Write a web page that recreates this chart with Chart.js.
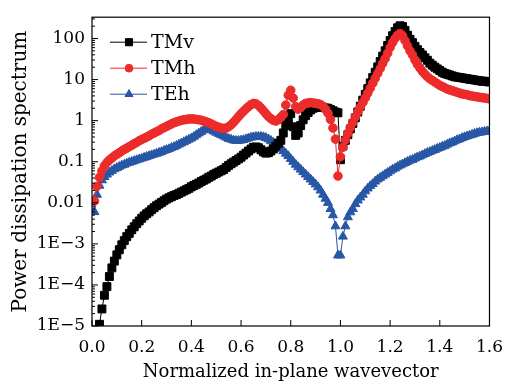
<!DOCTYPE html>
<html>
<head>
<meta charset="utf-8">
<script src="https://cdn.jsdelivr.net/npm/chart.js@4.4.1/dist/chart.umd.min.js"></script>
<style>
  html, body { margin: 0; background: #fff; }
  #wrap { width: 514px; height: 385px; }
</style>
</head>
<body>
<div id="wrap"><canvas id="chart"></canvas></div>
<script>
/* Power dissipation spectra vs normalized in-plane wavevector */

const wavevector = [
  0.01,0.02,0.03,0.04,0.05,0.06,0.07,0.08,0.09,0.10,
  0.11,0.12,0.13,0.14,0.15,0.16,0.17,0.18,0.19,0.20,
  0.21,0.22,0.23,0.24,0.25,0.26,0.27,0.28,0.29,0.30,
  0.31,0.32,0.33,0.34,0.35,0.36,0.37,0.38,0.39,0.40,
  0.41,0.42,0.43,0.44,0.45,0.46,0.47,0.48,0.49,0.50,
  0.51,0.52,0.53,0.54,0.55,0.56,0.57,0.58,0.59,0.60,
  0.61,0.62,0.63,0.64,0.65,0.66,0.67,0.68,0.69,0.70,
  0.71,0.72,0.73,0.74,0.75,0.76,0.77,0.78,0.79,0.80,
  0.81,0.82,0.83,0.84,0.85,0.86,0.87,0.88,0.89,0.90,
  0.91,0.92,0.93,0.94,0.95,0.96,0.97,0.98,0.99,1.00,
  1.01,1.02,1.03,1.04,1.05,1.06,1.07,1.08,1.09,1.10,
  1.11,1.12,1.13,1.14,1.15,1.16,1.17,1.18,1.19,1.20,
  1.21,1.22,1.23,1.24,1.25,1.26,1.27,1.28,1.29,1.30,
  1.31,1.32,1.33,1.34,1.35,1.36,1.37,1.38,1.39,1.40,
  1.41,1.42,1.43,1.44,1.45,1.46,1.47,1.48,1.49,1.50,
  1.51,1.52,1.53,1.54,1.55,1.56,1.57,1.58,1.59,1.60
];

const tmv = [
  null,null,1.1e-5,2.6e-5,5.6e-5,9.1e-5,1.6e-4,2.6e-4,3.8e-4,5.4e-4,
  7.2e-4,9.5e-4,1.2e-3,1.5e-3,1.8e-3,2.2e-3,2.6e-3,3.1e-3,3.6e-3,4.2e-3,
  4.8e-3,5.4e-3,6.0e-3,6.8e-3,7.6e-3,8.5e-3,9.3e-3,0.0102,0.0112,0.0123,
  0.0132,0.0141,0.0151,0.0158,0.017,0.0182,0.0195,0.0209,0.0224,0.0245,
  0.0263,0.0282,0.0302,0.0331,0.0355,0.038,0.0417,0.0447,0.049,0.0525,
  0.0562,0.0603,0.0646,0.0724,0.0813,0.0891,0.0977,0.107,0.117,0.129,
  0.145,0.162,0.182,0.204,0.224,0.229,0.219,0.195,0.174,0.162,
  0.166,0.182,0.204,0.24,0.282,0.331,0.501,0.759,1.12,1.48,
  0.708,0.437,0.501,0.759,1.05,1.32,1.58,1.82,2.0,2.09,
  2.14,2.14,2.09,2.04,2.0,1.86,1.74,1.62,1.55,0.112,
  0.24,0.331,0.457,0.631,0.851,1.17,1.62,2.24,3.16,4.37,
  6.03,8.32,11.2,15.1,20.4,27.5,37.2,50.1,67.6,89.1,
  117,148,182,204,195,158,120,95.5,79.4,64.6,
  53.7,45.7,39.8,33.9,29.5,25.1,22.4,20.0,18.2,16.6,
  15.1,14.1,13.5,12.9,12.3,11.7,11.5,11.2,11.0,10.7,
  10.5,10.2,10.0,9.77,9.55,9.33,9.12,9.12,8.91,8.71
];

const tmh = [
  0.011,0.0251,0.0417,0.0603,0.0794,0.0955,0.11,0.123,0.138,0.151,
  0.166,0.182,0.2,0.214,0.234,0.251,0.275,0.295,0.324,0.347,
  0.372,0.398,0.427,0.468,0.501,0.537,0.575,0.631,0.676,0.724,
  0.776,0.832,0.891,0.933,0.977,1.02,1.05,1.07,1.1,1.1,
  1.1,1.07,1.05,1.02,0.977,0.933,0.891,0.832,0.776,0.724,
  0.692,0.661,0.646,0.661,0.708,0.794,0.912,1.07,1.26,1.48,
  1.7,1.95,2.19,2.45,2.63,2.57,2.34,2.04,1.74,1.48,
  1.26,1.12,1.02,0.977,1.05,1.2,1.41,2.4,4.17,5.5,
  3.55,2.19,1.91,2.09,2.4,2.63,2.69,2.75,2.69,2.63,
  2.57,2.45,2.24,1.91,1.51,1.07,0.661,0.355,0.0447,0.132,
  0.224,0.339,0.49,0.676,0.912,1.23,1.62,2.14,2.75,3.55,
  4.68,6.17,8.13,10.7,14.1,18.6,24.5,32.4,43.7,60.3,
  79.4,100,120,132,117,89.1,66.1,50.1,39.8,30.2,
  23.4,19.1,15.8,13.5,11.7,10.5,9.55,8.71,7.94,7.24,
  6.76,6.31,5.89,5.62,5.37,5.13,4.9,4.68,4.47,4.37,
  4.27,4.07,3.98,3.89,3.8,3.72,3.63,3.55,3.47,3.39
];

const teh = [
  0.006,0.0158,0.0263,0.0355,0.0427,0.049,0.055,0.0603,0.0661,0.0708,
  0.0759,0.0813,0.0851,0.0912,0.0955,0.1,0.105,0.11,0.115,0.12,
  0.126,0.132,0.138,0.145,0.151,0.158,0.166,0.174,0.186,0.195,
  0.204,0.219,0.229,0.245,0.263,0.282,0.302,0.324,0.347,0.372,
  0.407,0.447,0.49,0.537,0.589,0.617,0.617,0.589,0.55,0.513,
  0.479,0.447,0.417,0.389,0.363,0.347,0.331,0.324,0.324,0.331,
  0.339,0.355,0.372,0.389,0.398,0.407,0.407,0.407,0.398,0.38,
  0.355,0.324,0.295,0.263,0.234,0.209,0.182,0.158,0.138,0.117,
  0.1,0.0851,0.0741,0.0646,0.0562,0.049,0.0427,0.0372,0.0324,0.0282,
  0.024,0.02,0.0158,0.0126,0.01,0.00708,0.00501,0.00269,0.000525,0.000525,
  0.00151,0.00269,0.00447,0.00589,0.00708,0.00933,0.0115,0.0135,0.0158,0.0191,
  0.0224,0.0257,0.0288,0.0331,0.0372,0.0407,0.0447,0.049,0.0537,0.0589,
  0.0646,0.0692,0.0759,0.0813,0.0871,0.0933,0.1,0.107,0.112,0.12,
  0.129,0.135,0.145,0.155,0.166,0.174,0.186,0.195,0.209,0.219,
  0.234,0.245,0.263,0.282,0.295,0.316,0.339,0.355,0.38,0.398,
  0.417,0.437,0.457,0.479,0.501,0.513,0.525,0.537,0.55,0.562
];

const xTicks = [0, 0.2, 0.4, 0.6, 0.8, 1.0, 1.2, 1.4, 1.6];
const yTicks = [1e-5, 1e-4, 1e-3, 0.01, 0.1, 1, 10, 100];
const yTickLabels = ["1E\u22125", "1E\u22124", "1E\u22123", "0.01", "0.1", "1", "10", "100"];

const FAMILY = "'DejaVu Serif', serif";
const pts = vals => wavevector.map((x, i) => ({ x, y: vals[i] })).filter(p => p.y != null);

const series = [
  { label: "TMv", data: tmv, color: "#000000", style: "rect", r: 5.6, order: 1 },
  { label: "TMh", data: tmh, color: "#ec2b2b", style: "circle", r: 4.3, order: 0 },
  { label: "TEh", data: teh, color: "#2857a6", style: "triangle", r: 5.2, order: 2 },
];

// frame, inward ticks and the in-plot legend
const framePlugin = {
  id: "frame",
  afterDraw(chart) {
    const { ctx, chartArea: a, scales: { x, y } } = chart;
    ctx.save();
    ctx.strokeStyle = "#000";
    ctx.lineWidth = 1.2;
    ctx.strokeRect(a.left, a.top, a.right - a.left, a.bottom - a.top);
    ctx.beginPath();
    xTicks.forEach(v => {
      const px = x.getPixelForValue(v);
      ctx.moveTo(px, a.bottom); ctx.lineTo(px, a.bottom - 6);
    });
    yTicks.forEach(d => {
      const py = y.getPixelForValue(d);
      ctx.moveTo(a.left, py); ctx.lineTo(a.left + 6, py);
      for (let m = 2; m < 10; m++) {
        if (d * m > y.max) break;
        const pm = y.getPixelForValue(d * m);
        ctx.moveTo(a.left, pm); ctx.lineTo(a.left + 3, pm);
      }
    });
    ctx.lineWidth = 1;
    ctx.stroke();

    // legend
    ctx.font = "19px " + FAMILY;
    ctx.textBaseline = "middle";
    series.forEach((s, i) => {
      const ly = a.top + 25 + i * 26;
      ctx.strokeStyle = s.color;
      ctx.fillStyle = s.color;
      ctx.lineWidth = 1;
      ctx.beginPath();
      ctx.moveTo(a.left + 18, ly); ctx.lineTo(a.left + 55, ly);
      ctx.stroke();
      Chart.helpers.drawPoint(ctx, { pointStyle: s.style, radius: s.r * 0.9, rotation: 0, borderWidth: 1 }, a.left + 37, ly);
      ctx.fillStyle = "#000";
      ctx.fillText(s.label, a.left + 59, ly + 1);
    });
    ctx.restore();
  }
};

new Chart(document.getElementById("chart"), {
  type: "line",
  data: {
    datasets: series.map(s => ({
      label: s.label,
      data: pts(s.data),
      order: s.order,
      borderColor: s.color,
      backgroundColor: s.color,
      borderWidth: 1,
      pointStyle: s.style,
      pointRadius: s.r,
      pointBorderWidth: 1,
      pointBorderColor: s.color,
      pointBackgroundColor: s.color,
      tension: 0,
    }))
  },
  options: {
    responsive: true, maintainAspectRatio: false, animation: false,
    layout: { padding: { top: 8, right: 16, left: 0, bottom: 0 } },
    plugins: { legend: { display: false }, tooltip: { enabled: false } },
    scales: {
      x: {
        type: "linear", min: 0, max: 1.6,
        afterBuildTicks: s => { s.ticks = xTicks.map(v => ({ value: v })); },
        afterFit: s => { s.height = 59; },
        grid: { display: false, drawTicks: false },
        border: { display: false },
        ticks: { color: "#000", padding: 11, font: { family: FAMILY, size: 17 }, maxRotation: 0,
                 callback: v => v.toFixed(1) },
        title: { display: true, text: "Normalized in-plane wavevector", color: "#000",
                 font: { family: FAMILY, size: 18 }, padding: { top: 0, bottom: 2 } }
      },
      y: {
        type: "logarithmic", min: 1e-5, max: 330,
        afterBuildTicks: s => { s.ticks = yTicks.map(v => ({ value: v })); },
        afterFit: s => { s.width = 92; },
        grid: { display: false, drawTicks: false },
        border: { display: false },
        ticks: { color: "#000", padding: 7, font: { family: FAMILY, size: 17 },
                 callback: v => { const i = yTicks.indexOf(v); return i < 0 ? "" : yTickLabels[i]; } },
        title: { display: true, text: "Power dissipation spectrum", color: "#000",
                 font: { family: FAMILY, size: 20 }, padding: { top: 9, bottom: 0 } }
      }
    }
  },
  plugins: [framePlugin]
});
</script>
</body>
</html>
